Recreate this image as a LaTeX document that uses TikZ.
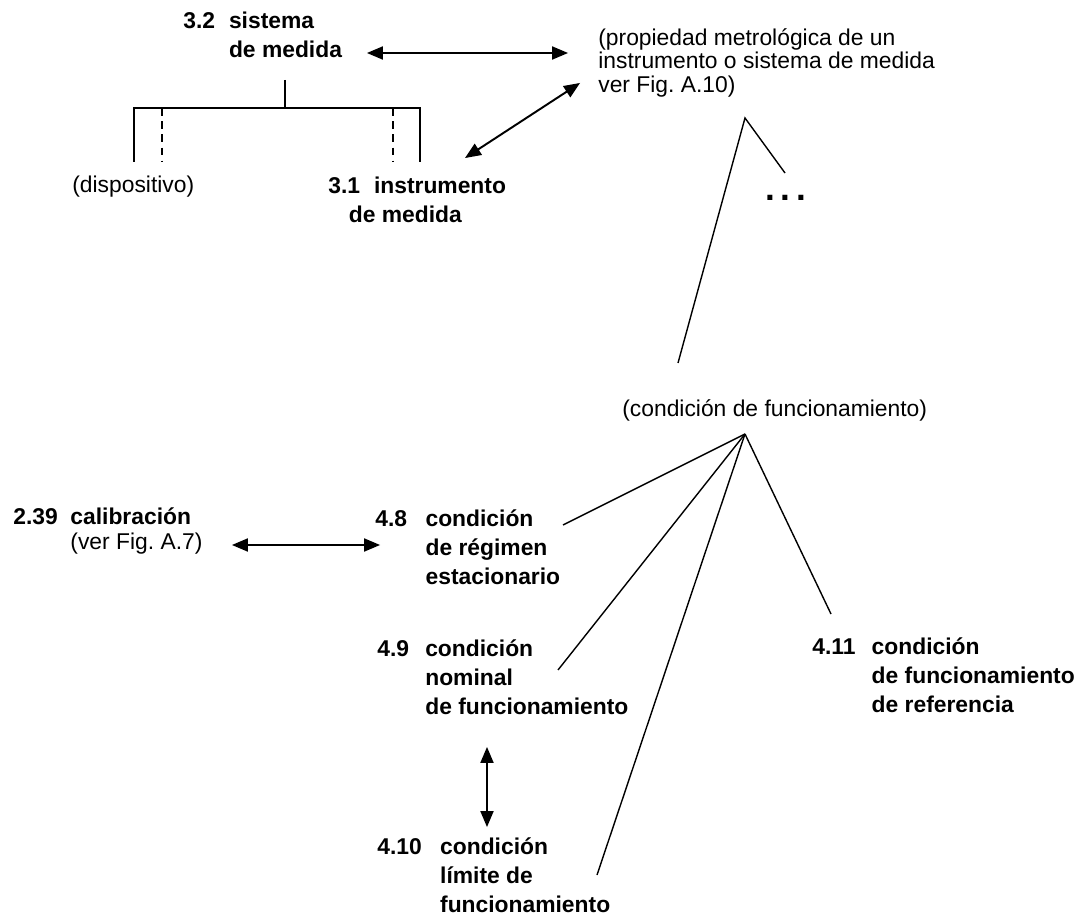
\documentclass[tikz,border=0pt]{standalone}
\usepackage{fontspec}
\setmainfont{Liberation Sans}
\usepackage{tikz}
\usetikzlibrary{arrows,positioning}
\newcommand{\Num}[2][2.1em]{\makebox[#1][l]{#2}}
\newcommand{\Ind}[1][2.1em]{\hspace*{#1}}
\frenchspacing

\begin{document}
\begin{tikzpicture}[x=0.02cm,y=-0.02cm,>=triangle 45,
    term/.style={font=\fontsize{13}{16.5}\selectfont\bfseries,align=left,inner sep=0pt,anchor=north west},
    paren/.style={font=\fontsize{13}{13.5}\selectfont,align=left,inner sep=0pt,anchor=north west},
    link/.style={<->,line width=1.1pt,black},
    tree/.style={line width=1.3pt,black},
    fan/.style={line width=.8pt,black}]

  \useasboundingbox (0,0) rectangle (1090,922);

  % sistema / instrumento
  \node[term] (sm) at (183,12) {\Num[2em]{3.2}sistema\\\Ind[2em]de medida};
  \node[paren,anchor=west] (disp) at (72,187) {(dispositivo)};
  \node[term] (im) at (328,177) {\Num[2em]{3.1}instrumento\\\Ind[0.9em]de medida};
  \node[paren] (prop) at (598,28) {(propiedad metrológica de un\\instrumento o sistema de medida\\ver Fig. A.10)};
  \node[font=\fontsize{20}{20}\selectfont\bfseries,inner sep=0pt,anchor=base west] (dots) at (765,201) {.\hspace{3.2pt}.\hspace{3.2pt}.};

  \coordinate (t0) at (285,80);
  \coordinate (tl) at (134,162);
  \coordinate (tr) at (420,162);
  \coordinate (ul) at (162,108);
  \coordinate (ur) at (393,108);
  \draw [tree] (t0) -- ++(0,28);
  \draw [tree] (tl) -- ++(0,-54) -| (tr);
  \draw [tree, dash pattern=on 4.5pt off 3pt] (ul) -- ++(0,54);
  \draw [tree, dash pattern=on 4.5pt off 3pt] (ur) -- ++(0,54);

  \coordinate (sa) at (367,53);
  \coordinate (sb) at (568,53);
  \coordinate (da) at (465,158);
  \coordinate (db) at (580,83);
  \draw [link] (sa) -- (sb);
  \draw [link] (da) -- (db);

  \coordinate (pa) at (745,118);
  \coordinate (pl) at (678,363);
  \coordinate (pr) at (785,173);
  \draw [fan] (pl) -- (pa) -- (pr);

  % condiciones de funcionamiento
  \node[paren,anchor=west] (cf) at (622,410) {(condición de funcionamiento)};
  \node[term] (cal) at (13,507) {\Num[2.5em]{2.39}calibración\\[-2pt]\Ind[2.5em]{\mdseries(ver Fig. A.7)}};
  \node[term] (c48) at (375,509) {\Num[2.2em]{4.8}condición\\\Ind[2.2em]de régimen\\\Ind[2.2em]estacionario};
  \node[term] (c49) at (377,639) {\Num[2.1em]{4.9}condición\\\Ind[2.1em]nominal\\\Ind[2.1em]de funcionamiento};
  \node[term] (c410) at (377,837) {\Num[2.75em]{4.10}condición\\\Ind[2.75em]límite de\\\Ind[2.75em]funcionamiento};
  \node[term] (c411) at (812,637) {\Num[2.6em]{4.11}condición\\\Ind[2.6em]de funcionamiento\\\Ind[2.6em]de referencia};

  \coordinate (fa) at (745,434);
  \coordinate (e48) at (563,525);
  \coordinate (e49) at (558,670);
  \coordinate (e410) at (597,875);
  \coordinate (e411) at (831,614);
  \foreach \e in {e48,e49,e410,e411}
    \draw [fan] (fa) -- (\e);

  \coordinate (ka) at (232,545);
  \coordinate (kb) at (380,545);
  \coordinate (va) at (487,747);
  \coordinate (vb) at (487,827);
  \draw [link] (ka) -- (kb);
  \draw [link] (va) -- (vb);
\end{tikzpicture}
\end{document}
